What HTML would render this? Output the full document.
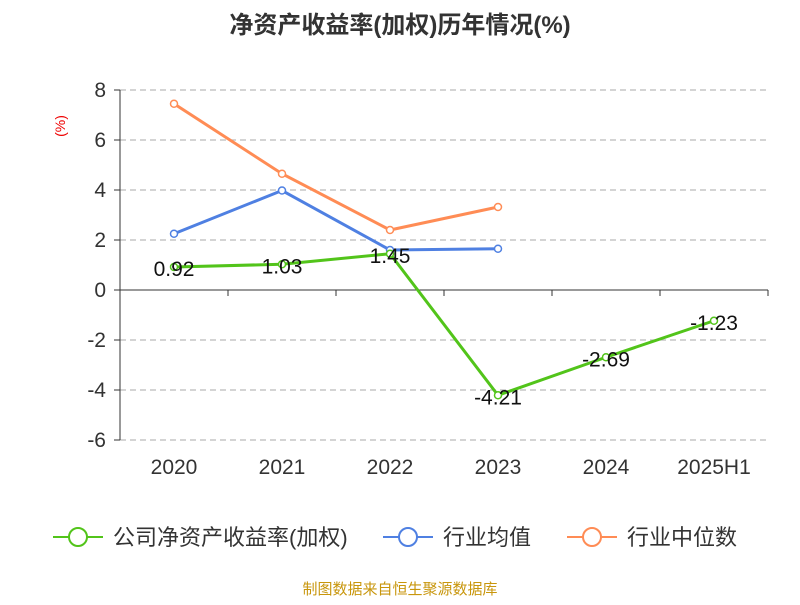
<!DOCTYPE html>
<html><head><meta charset="utf-8"><style>
body{margin:0;background:#fff;}
svg text{font-family:"Liberation Sans","Noto Sans CJK SC",sans-serif;}
</style></head><body>
<svg width="800" height="600" id="c">
<text x="400" y="33" text-anchor="middle" font-size="24" font-weight="bold" fill="#333">净资产收益率(加权)历年情况(%)</text>
<text x="65" y="126" text-anchor="middle" font-size="14" fill="#e00" transform="rotate(-90 65 126)">(%)</text>
<g id="grid"></g><g id="axes"></g><g id="series"></g>
<g>
<g><line x1="53" y1="537" x2="103" y2="537" stroke="#52c41a" stroke-width="2"/><circle cx="78" cy="537" r="9" fill="#fff" stroke="#52c41a" stroke-width="2"/><text x="113" y="545" font-size="22" fill="#333">公司净资产收益率(加权)</text></g>
<g><line x1="383" y1="537" x2="433" y2="537" stroke="#4f80e2" stroke-width="2"/><circle cx="408" cy="537" r="9" fill="#fff" stroke="#4f80e2" stroke-width="2"/><text x="443" y="545" font-size="22" fill="#333">行业均值</text></g>
<g><line x1="567" y1="537" x2="617" y2="537" stroke="#ff8c55" stroke-width="2"/><circle cx="592" cy="537" r="9" fill="#fff" stroke="#ff8c55" stroke-width="2"/><text x="627" y="545" font-size="22" fill="#333">行业中位数</text></g>
</g>
<text x="400" y="594" text-anchor="middle" font-size="15" fill="#c8960c">制图数据来自恒生聚源数据库</text>
</svg>
<script>
const categories=["2020","2021","2022","2023","2024","2025H1"];
const company=[0.92,1.03,1.45,-4.21,-2.69,-1.23];
const industryAvg=[2.25,3.98,1.6,1.65];
const industryMedian=[7.45,4.65,2.4,3.32];
const yTicks=[8,6,4,2,0,-2,-4,-6];
const NS="http://www.w3.org/2000/svg";
const x0=120,x1=768,band=(x1-x0)/categories.length;
const X=i=>x0+band*(i+0.5);
const Y=v=>290-v*25;
function mk(t,a,p){const e=document.createElementNS(NS,t);for(const k in a)e.setAttribute(k,a[k]);p.appendChild(e);return e;}
const grid=document.getElementById('grid'),axes=document.getElementById('axes'),ser=document.getElementById('series');
yTicks.forEach(v=>{
 if(v!==0){const g=mk('line',{x1:x0,x2:x1,y1:Y(v),y2:Y(v),stroke:'#bbb','stroke-dasharray':'6,4','stroke-width':1.3},grid);
 
 }
 mk('line',{x1:x0-6,x2:x0,y1:Y(v),y2:Y(v),stroke:'#333'},axes);
 const t=mk('text',{x:x0-14,y:Y(v)+7,'text-anchor':'end','font-size':21,fill:'#333'},axes);t.textContent=v;
 
 
});
const ya=mk('line',{x1:x0,x2:x0,y1:Y(8),y2:Y(-6),stroke:'#333'},axes);


const xa=mk('line',{x1:x0,x2:x1,y1:Y(0),y2:Y(0),stroke:'#333'},axes);


for(let i=0;i<=categories.length;i++)mk('line',{x1:x0+band*i,x2:x0+band*i,y1:Y(0),y2:Y(0)+6,stroke:'#333'},axes);
categories.forEach((c,i)=>{const t=mk('text',{x:X(i),y:474,'text-anchor':'middle','font-size':21,fill:'#333'},axes);t.textContent=c;
 
 });
function series(d,col,name,labels){
 const g=mk('g',{},ser);
 
 
 mk('polyline',{points:d.map((v,i)=>X(i)+','+Y(v)).join(' '),fill:'none',stroke:col,'stroke-width':3},g);
 d.forEach((v,i)=>{const c=mk('circle',{cx:X(i),cy:Y(v),r:3.5,fill:'#fff',stroke:col,'stroke-width':1.5},g);
  
  
  if(labels){const t=mk('text',{x:X(i),y:Y(v)+9,'text-anchor':'middle','font-size':21,fill:'#111'},g);t.textContent=v.toFixed(2);
   
   }});
}
series(industryMedian,'#ff8c55','series-industry-median',false);
series(industryAvg,'#4f80e2','series-industry-avg',false);
series(company,'#52c41a','series-company',true);
</script>
</body></html>
